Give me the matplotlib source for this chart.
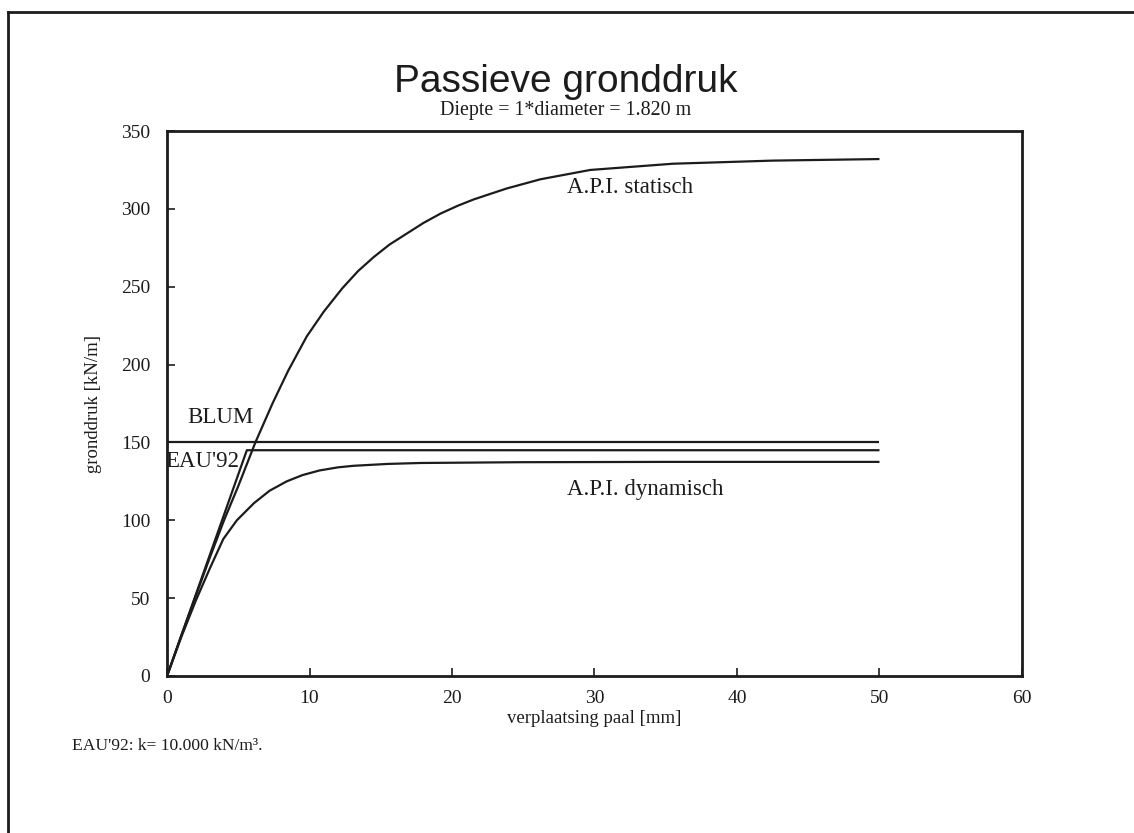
import matplotlib
matplotlib.use("Agg")
import matplotlib.pyplot as plt
from matplotlib.lines import Line2D

# data (x in mm, y in kN/m)
api_stat_x = [0, 1.0, 2.0, 3.0, 4.0, 5.0, 6.2, 7.4, 8.5, 9.8, 11.0, 12.3, 13.4, 14.5, 15.6, 16.8, 18.0, 19.2, 20.4, 21.5, 23.8, 26.2, 29.7, 35.5, 42.5, 50]
api_stat_y = [0, 26, 51, 76, 100, 122, 150, 175, 196, 218, 234, 249, 260, 269, 277, 284, 291, 297, 302, 306, 313, 319, 325, 329, 331, 332]

api_dyn_x = [0, 1.0, 2.0, 3.0, 3.95, 4.9, 6.1, 7.2, 8.4, 9.5, 10.7, 12.0, 13.1, 15.5, 17.8, 24.8, 35, 50]
api_dyn_y = [0, 25, 48, 69, 88, 100, 111, 119, 125, 129, 132, 134, 135, 136.2, 136.8, 137.3, 137.5, 137.5]

eau_x = [0, 5.6, 50]
eau_y = [0, 145, 145]

blum_x = [0, 50]
blum_y = [150, 150]

xticks = [0, 10, 20, 30, 40, 50, 60]
yticks = [0, 50, 100, 150, 200, 250, 300, 350]

serif = ['Liberation Serif', 'DejaVu Serif']
ink = '#1c1c1c'

fig = plt.figure(figsize=(11.34, 8.33), dpi=100)
ax = fig.add_axes([0.1473, 0.1885, 0.7539, 0.6542])

for xs, ys in [(api_stat_x, api_stat_y), (api_dyn_x, api_dyn_y), (eau_x, eau_y), (blum_x, blum_y)]:
    ax.plot(xs, ys, color=ink, lw=1.6, solid_capstyle='butt', solid_joinstyle='round')

ax.set_xlim(0, 60)
ax.set_ylim(0, 350)
ax.set_xticks(xticks)
ax.set_yticks(yticks)
ax.tick_params(direction='in', length=6, width=1.2, colors=ink, labelsize=14)
ax.tick_params(axis='x', pad=10)
ax.tick_params(axis='y', pad=12)
for lab in ax.get_xticklabels() + ax.get_yticklabels():
    lab.set_family(serif)
for s in ax.spines.values():
    s.set_linewidth(2)
    s.set_color(ink)

ax.set_xlabel('verplaatsing paal [mm]', family=serif, fontsize=13.5, labelpad=2, color=ink)
ax.set_ylabel('gronddruk [kN/m]', family=serif, fontsize=13.5, labelpad=14, color=ink)

ax.text(28.1, 314, 'A.P.I. statisch', family=serif, fontsize=16.5, va='center', color=ink)
ax.text(28.1, 119.5, 'A.P.I. dynamisch', family=serif, fontsize=16.5, va='center', color=ink)
ax.text(1.4, 166, 'BLUM', family=serif, fontsize=16.5, va='center', color=ink)
ax.text(-0.1, 137.5, "EAU'92", family=serif, fontsize=16.5, va='center', color=ink)

fig.text(0.499, 0.8895, 'Passieve gronddruk', family=['Liberation Sans', 'DejaVu Sans'],
         fontsize=28, ha='center', va='baseline', color=ink)
fig.text(0.499, 0.862, 'Diepte = 1*diameter = 1.820 m', family=serif, fontsize=14.4,
         ha='center', va='baseline', color=ink)
fig.text(0.0635, 0.105, "EAU'92: k= 10.000 kN/m³.", family=serif, fontsize=12.6,
         ha='left', va='center', color=ink)

# page border (left and top edge of the scanned sheet)
fig.add_artist(Line2D([0.007, 0.007], [0.0, 0.985], transform=fig.transFigure, color=ink, lw=2))
fig.add_artist(Line2D([0.007, 1.0], [0.985, 0.985], transform=fig.transFigure, color=ink, lw=2))

fig.savefig('out.png', dpi=100)
